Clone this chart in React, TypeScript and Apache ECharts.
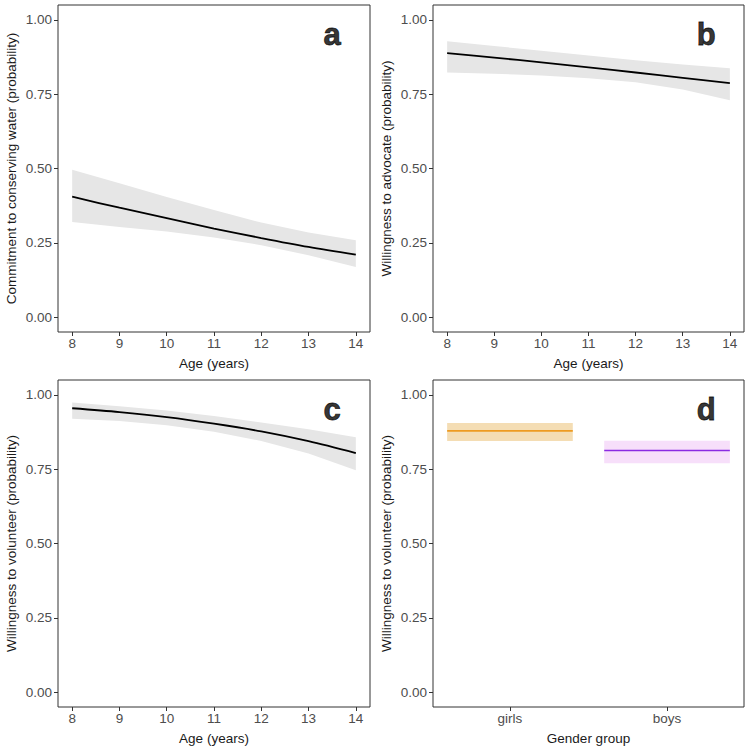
import React, { useEffect, useRef } from "react";
import * as echarts from "echarts";

const ages = [8, 9, 10, 11, 12, 13, 14];

const commitFit = [0.405, 0.368, 0.333, 0.298, 0.266, 0.236, 0.210];
const commitLower = [0.320, 0.303, 0.288, 0.268, 0.242, 0.208, 0.169];
const commitUpper = [0.496, 0.450, 0.404, 0.360, 0.318, 0.285, 0.259];

const advocateFit = [0.888, 0.873, 0.857, 0.840, 0.823, 0.805, 0.787];
const advocateLower = [0.823, 0.819, 0.813, 0.804, 0.790, 0.766, 0.730];
const advocateUpper = [0.928, 0.912, 0.896, 0.880, 0.864, 0.850, 0.837];

const volunteerFit = [0.955, 0.942, 0.925, 0.903, 0.877, 0.844, 0.804];
const volunteerLower = [0.920, 0.912, 0.898, 0.876, 0.845, 0.803, 0.746];
const volunteerUpper = [0.974, 0.962, 0.947, 0.929, 0.907, 0.884, 0.857];

const genderGroups = ["girls", "boys"];
const genderFit = [0.879, 0.813];
const genderLower = [0.845, 0.770];
const genderUpper = [0.905, 0.846];

const yTicks = [0, 0.25, 0.5, 0.75, 1];
const panelLetters = ["a", "b", "c", "d"];
const yTitles = [
  "Commitment to conserving water (probability)",
  "Willingness to advocate (probability)",
  "Willingness to volunteer (probability)",
  "Willingness to volunteer (probability)",
];
const xTitles = ["Age (years)", "Age (years)", "Age (years)", "Gender group"];

const FONT = "'Liberation Sans', Arial, sans-serif";
const genderLineColors = ["#EE9B22", "#8A2BE2"];
const genderFillColors = ["#F4DDB4", "#F7DFFA"];

export default function App() {
  const ref = useRef<HTMLDivElement>(null);
  useEffect(() => {
    document.body.style.margin = "0";
    const chart = echarts.init(ref.current!, null, { renderer: "svg" });

    const grids = [
      { left: 58, top: 5, width: 312, height: 327 },
      { left: 433, top: 5, width: 311, height: 327 },
      { left: 58, top: 380, width: 312, height: 327 },
      { left: 433, top: 380, width: 311, height: 327 },
    ].map((g) => ({
      ...g,
      show: true,
      borderColor: "#333",
      borderWidth: 1,
      backgroundColor: "#fff",
      containLabel: false,
    }));

    const tickLabel = { color: "#4D4D4D", fontSize: 13.5, fontFamily: FONT };
    const nameStyle = { color: "#1a1a1a", fontSize: 13.5, fontFamily: FONT };

    const xAxes = [0, 1, 2, 3].map((i) => {
      const isGender = i === 3;
      const ticks = isGender ? [1, 2] : ages;
      return {
        type: "value",
        gridIndex: i,
        position: "bottom",
        min: isGender ? 0.51 : 7.7,
        max: isGender ? 2.49 : 14.3,
        name: xTitles[i],
        nameLocation: "middle",
        nameGap: 24,
        nameTextStyle: nameStyle,
        axisLine: { show: false, onZero: false },
        splitLine: { show: false },
        axisTick: {
          show: true,
          length: 4,
          customValues: ticks,
          lineStyle: { color: "#333", width: 1 },
        },
        axisLabel: {
          ...tickLabel,
          margin: 4,
          customValues: ticks,
          formatter: (v: number) =>
            isGender ? genderGroups[Math.round(v) - 1] : String(Math.round(v)),
        },
      };
    });

    const yAxes = [0, 1, 2, 3].map((i) => ({
      type: "value",
      gridIndex: i,
      position: "left",
      min: -0.05,
      max: 1.05,
      name: yTitles[i],
      nameLocation: "middle",
      nameGap: 40,
      nameTextStyle: nameStyle,
      axisLine: { show: false, onZero: false },
      splitLine: { show: false },
      axisTick: {
        show: true,
        length: 4,
        customValues: yTicks,
        lineStyle: { color: "#333", width: 1 },
      },
      axisLabel: {
        ...tickLabel,
        margin: 6,
        customValues: yTicks,
        formatter: (v: number) => v.toFixed(2),
      },
    }));

    const agePanels = [
      { fit: commitFit, lower: commitLower, upper: commitUpper },
      { fit: advocateFit, lower: advocateLower, upper: advocateUpper },
      { fit: volunteerFit, lower: volunteerLower, upper: volunteerUpper },
    ];

    const series: any[] = [];
    agePanels.forEach((p, i) => {
      // confidence ribbon drawn as one polygon through the axes' scales
      series.push({
        type: "custom",
        xAxisIndex: i,
        yAxisIndex: i,
        data: ages.map((a, k) => [a, p.lower[k], p.upper[k]]),
        encode: { x: 0, y: [1, 2] },
        silent: true,
        z: 1,
        renderItem: (params: any, api: any) => {
          if (params.dataIndex !== 0) return null;
          const top = ages.map((a, k) => api.coord([a, p.upper[k]]));
          const bottom = ages
            .map((a, k) => api.coord([a, p.lower[k]]))
            .reverse();
          return {
            type: "polygon",
            shape: { points: top.concat(bottom) },
            style: { fill: "#E6E6E6", stroke: null },
          };
        },
      });
      series.push({
        type: "line",
        xAxisIndex: i,
        yAxisIndex: i,
        data: ages.map((a, k) => [a, p.fit[k]]),
        symbol: "none",
        smooth: 0.3,
        z: 3,
        lineStyle: { color: "#000", width: 1.8 },
        silent: true,
      });
    });

    series.push({
      type: "custom",
      xAxisIndex: 3,
      yAxisIndex: 3,
      data: genderGroups.map((g, k) => [k + 1, genderFit[k], genderLower[k], genderUpper[k]]),
      encode: { x: 0, y: [1, 2, 3] },
      silent: true,
      renderItem: (params: any, api: any) => {
        const idx = params.dataIndex;
        const x = api.value(0);
        const y = api.value(1);
        const lo = api.value(2);
        const hi = api.value(3);
        const p1 = api.coord([x - 0.4, hi]);
        const p2 = api.coord([x + 0.4, lo]);
        const c1 = api.coord([x - 0.4, y]);
        const c2 = api.coord([x + 0.4, y]);
        return {
          type: "group",
          children: [
            {
              type: "rect",
              shape: { x: p1[0], y: p1[1], width: p2[0] - p1[0], height: p2[1] - p1[1] },
              style: { fill: genderFillColors[idx] },
            },
            {
              type: "line",
              shape: { x1: c1[0], y1: c1[1], x2: c2[0], y2: c2[1] },
              style: { stroke: genderLineColors[idx], lineWidth: 1.6 },
            },
          ],
        };
      },
    });

    panelLetters.forEach((letter, i) => {
      series.push({
        type: "scatter",
        xAxisIndex: i,
        yAxisIndex: i,
        data: [[i === 3 ? 2.25 : 13.5, 0.95]],
        symbolSize: 1,
        itemStyle: { color: "rgba(0,0,0,0)" },
        silent: true,
        label: {
          show: true,
          position: "inside",
          formatter: letter,
          fontSize: 31,
          fontWeight: 900,
          fontFamily: FONT,
          color: "#000",
          textBorderColor: "#000",
          textBorderWidth: 0.8,
        },
      });
    });

    chart.setOption({
      animation: false,
      backgroundColor: "#fff",
      grid: grids,
      xAxis: xAxes,
      yAxis: yAxes,
      series,
    });
    return () => chart.dispose();
  }, []);

  return <div ref={ref} style={{ width: 750, height: 750 }} />;
}
